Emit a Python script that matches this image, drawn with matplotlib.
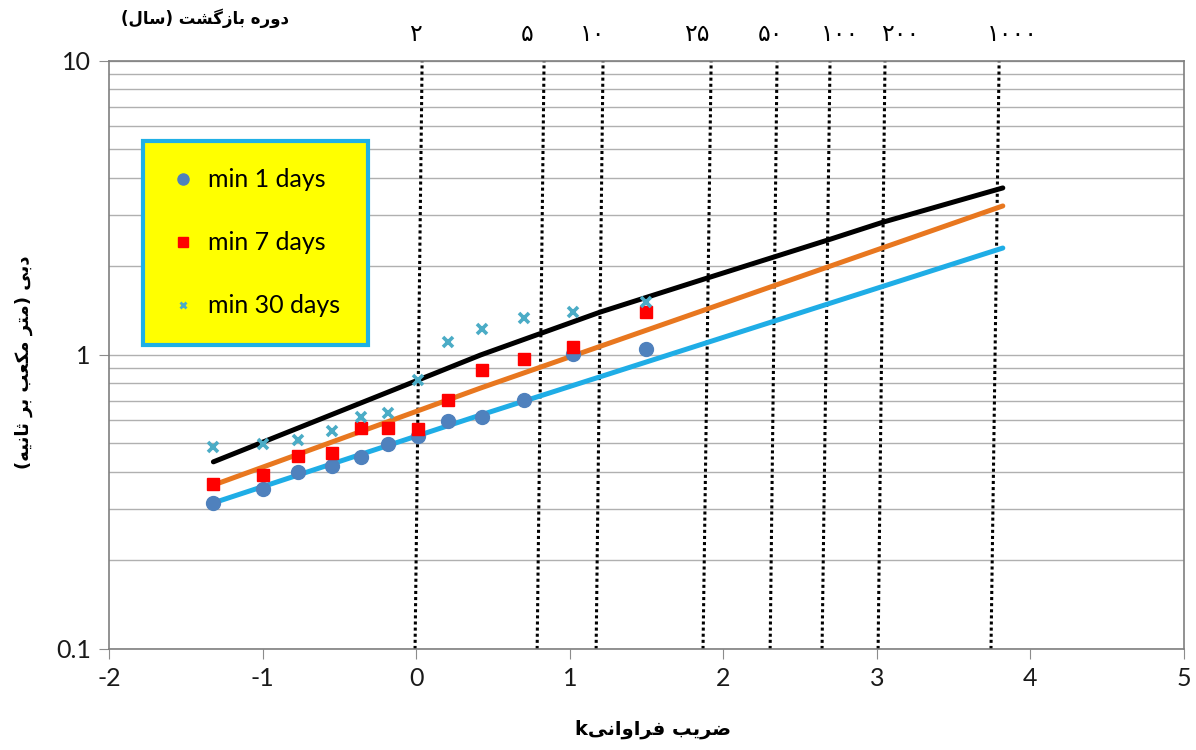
import numpy as np
import matplotlib
matplotlib.use('Agg')
import matplotlib.pyplot as plt
from matplotlib.lines import Line2D

# frequency factor k of the observed points (same for all three series)
k_obs = [-1.32, -1.00, -0.77, -0.55, -0.36, -0.18, 0.01, 0.21, 0.43, 0.70, 1.02, 1.50]
q_min1 = [0.314, 0.350, 0.400, 0.419, 0.450, 0.498, 0.530, 0.597, 0.615, 0.703, 1.008, 1.048]
q_min7 = [0.364, 0.391, 0.453, 0.465, 0.565, 0.565, 0.560, 0.703, 0.889, 0.969, 1.065, 1.400]
q_min30 = [0.486, 0.498, 0.514, 0.551, 0.615, 0.635, 0.822, 1.107, 1.226, 1.336, 1.400, 1.515]

# fitted curves
k_fit_black = [-1.32, -0.10, 0.42, 1.20, 1.90, 2.68, 3.04, 3.82]
q_fit_black = [0.433, 0.778, 1.00, 1.40, 1.83, 2.46, 2.83, 3.70]
k_fit_orange = [-1.32, 0.42, 3.82]
q_fit_orange = [0.361, 0.772, 3.213]
k_fit_blue = [-1.32, 0.42, 3.82]
q_fit_blue = [0.314, 0.625, 2.311]

# return period guide lines (slightly slanted in the source)
periods = ['۲', '۵', '۱۰', '۲۵', '۵۰', '۱۰۰', '۲۰۰', '۱۰۰۰']
k_period_bottom = [-0.007, 0.788, 1.172, 1.868, 2.305, 2.643, 3.008, 3.743]
k_period_top = [0.039, 0.833, 1.217, 1.921, 2.350, 2.695, 3.053, 3.796]
k_period_label = [-0.007, 0.723, 1.146, 1.829, 2.305, 2.760, 3.151, 3.880]

series_labels = ['min 1 days', 'min 7 days', 'min 30 days']
title_fa = 'دوره بازگشت (سال)'
xlabel_fa = 'ضریب فراوانیk'
ylabel_fa = 'دبی (متر مکعب بر ثانیه)'

# contextual forms: isolated, final, initial, medial
FORMS = {
    '\u0627': ('\uFE8D', '\uFE8E', None, None),
    '\u0628': ('\uFE8F', '\uFE90', '\uFE91', '\uFE92'),
    '\u062A': ('\uFE95', '\uFE96', '\uFE97', '\uFE98'),
    '\u062B': ('\uFE99', '\uFE9A', '\uFE9B', '\uFE9C'),
    '\u062F': ('\uFEA9', '\uFEAA', None, None),
    '\u0631': ('\uFEAD', '\uFEAE', None, None),
    '\u0632': ('\uFEAF', '\uFEB0', None, None),
    '\u0633': ('\uFEB1', '\uFEB2', '\uFEB3', '\uFEB4'),
    '\u0634': ('\uFEB5', '\uFEB6', '\uFEB7', '\uFEB8'),
    '\u0636': ('\uFEBD', '\uFEBE', '\uFEBF', '\uFEC0'),
    '\u0639': ('\uFEC9', '\uFECA', '\uFECB', '\uFECC'),
    '\u0641': ('\uFED1', '\uFED2', '\uFED3', '\uFED4'),
    '\u0644': ('\uFEDD', '\uFEDE', '\uFEDF', '\uFEE0'),
    '\u0645': ('\uFEE1', '\uFEE2', '\uFEE3', '\uFEE4'),
    '\u0646': ('\uFEE5', '\uFEE6', '\uFEE7', '\uFEE8'),
    '\u0647': ('\uFEE9', '\uFEEA', '\uFEEB', '\uFEEC'),
    '\u0648': ('\uFEED', '\uFEEE', None, None),
    '\u06A9': ('\uFB8E', '\uFB8F', '\uFB90', '\uFB91'),
    '\u06AF': ('\uFB92', '\uFB93', '\uFB94', '\uFB95'),
    '\u06CC': ('\uFBFC', '\uFBFD', '\uFBFE', '\uFBFF'),
}
MIRROR = {'(': ')', ')': '('}


def rtl(text):
    # shape persian letters and put them in visual (left to right) order
    out = []
    for i, ch in enumerate(text):
        if ch not in FORMS:
            out.append(ch)
            continue
        iso, fin, ini, med = FORMS[ch]
        prev = text[i - 1] if i > 0 else ''
        nxt = text[i + 1] if i + 1 < len(text) else ''
        j_prev = prev in FORMS and FORMS[prev][2] is not None
        j_next = ini is not None and nxt in FORMS
        if j_prev and j_next:
            out.append(med)
        elif j_prev:
            out.append(fin)
        elif j_next:
            out.append(ini)
        else:
            out.append(iso)
    return ''.join(MIRROR.get(c, c) for c in reversed(out))


plt.rcParams['font.family'] = ['Lato', 'DejaVu Sans']
fa_font = ['DejaVu Sans']

fig = plt.figure(figsize=(11.96, 7.5), dpi=100)
ax = fig.add_axes([0.0911, 0.1347, 0.8989, 0.7840])

ax.set_yscale('log')
ax.set_xlim(-2, 5)
ax.set_ylim(0.1, 10)

# horizontal grid at every log step
ax.grid(True, which='both', axis='y', color='#b0b0b0', lw=1.0)
ax.set_axisbelow(True)

for kb, kt in zip(k_period_bottom, k_period_top):
    ax.plot([kb, kt], [0.1, 10], color='black', lw=2.2, ls=(0, (1, 1.0)), zorder=2)

ax.plot(k_fit_blue, q_fit_blue, color='#1fade6', lw=3.6, zorder=3, solid_capstyle='round')
ax.plot(k_fit_orange, q_fit_orange, color='#e8771f', lw=3.6, zorder=3, solid_capstyle='round')
ax.plot(k_fit_black, q_fit_black, color='black', lw=3.6, zorder=3, solid_capstyle='round')

ax.plot(k_obs, q_min1, 'o', color='#4f81bd', ms=10, zorder=4)
ax.plot(k_obs, q_min7, 's', color='#ff0000', ms=8.5, zorder=5)
ax.plot(k_obs, q_min30, 'x', color='#4bacc6', ms=6.5, mew=2.6, zorder=6)

ax.set_xticks(range(-2, 6))
ax.set_xticklabels([str(v) for v in range(-2, 6)])
ax.set_yticks([0.1, 1, 10])
ax.set_yticklabels(['0.1', '1', '10'])
ax.yaxis.set_minor_formatter(matplotlib.ticker.NullFormatter())
ax.tick_params(axis='both', which='major', labelsize=18, length=7, color='#8c8c8c',
               labelcolor='#1a1a1a', pad=6)
ax.tick_params(axis='y', which='minor', length=0)
for sp in ax.spines.values():
    sp.set_color('#7f7f7f')
    sp.set_linewidth(1.2)

handles = [
    Line2D([], [], ls='none', marker='o', color='#4f81bd', ms=8),
    Line2D([], [], ls='none', marker='s', color='#ff0000', ms=7),
    Line2D([], [], ls='none', marker='x', color='#4bacc6', ms=5, mew=2),
]
leg = ax.legend(handles, series_labels, loc='upper left', bbox_to_anchor=(0.0316, 0.864),
                fontsize=18, frameon=True, fancybox=False, labelspacing=1.6,
                borderpad=1.1, handletextpad=0.5, handlelength=1.0, borderaxespad=0)
leg.get_frame().set_facecolor('#ffff00')
leg.get_frame().set_edgecolor('#1fb0e6')
leg.get_frame().set_linewidth(3)
leg.get_frame().set_alpha(1)

# return period labels along the top
for lab, kx in zip(periods, k_period_label):
    ax.text(kx, 1.025, lab, transform=ax.get_xaxis_transform(), ha='center', va='bottom',
            fontsize=17, family=fa_font)
fig.text(0.171, 0.976, rtl(title_fa), ha='center', va='center', fontsize=12,
         fontweight='bold', family=fa_font)

fig.text(0.546, 0.028, rtl(xlabel_fa), ha='center', va='center', fontsize=14,
         fontweight='bold', family=fa_font)
fig.text(0.02, 0.517, rtl(ylabel_fa), ha='center', va='center', rotation=90,
         fontsize=13, fontweight='bold', family=fa_font)

fig.savefig('out.png', dpi=100)
